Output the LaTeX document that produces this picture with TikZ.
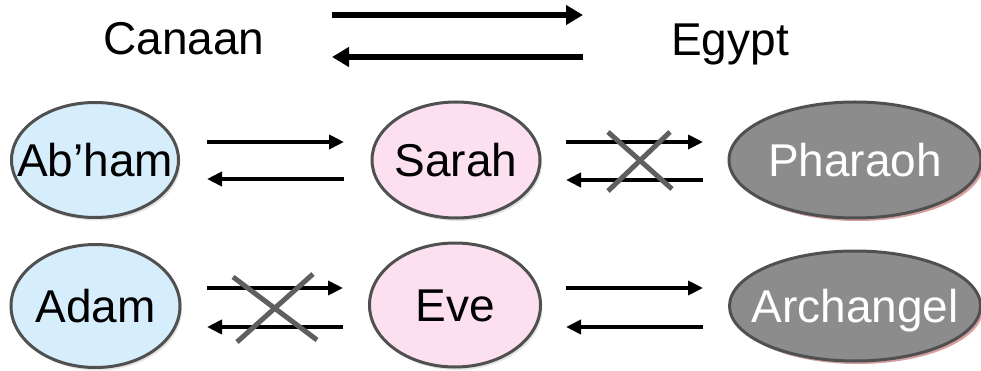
\documentclass[tikz,border=0pt]{standalone}
\usepackage{fontspec}
\setmainfont{Liberation Sans}
\usetikzlibrary{arrows.meta,shapes.geometric,shadows}
\definecolor{bluefill}{HTML}{D6EEFC}
\definecolor{pinkfill}{HTML}{FCE0EF}
\definecolor{grayfill}{HTML}{8C8C8C}
\definecolor{edgegray}{HTML}{505050}
\definecolor{crossgray}{HTML}{5F5F5F}
\newcommand{\ztext}[1]{\makebox[0pt]{#1}}
\tikzset{
  x=1pt, y=-1pt,
  bigtext/.style={font=\fontsize{46}{50}\selectfont, inner sep=0pt, text height=33pt, text depth=0pt},
  oval/.style={ellipse, draw=edgegray, line width=3pt, inner sep=0pt, bigtext,
    drop shadow={opacity=0.22, shadow xshift=2pt, shadow yshift=-3pt}},
  blueoval/.style={oval, fill=bluefill},
  pinkoval/.style={oval, fill=pinkfill},
  grayoval/.style={oval, fill=grayfill, text=white,
    drop shadow={opacity=0.3, fill=red!70!black, shadow xshift=3pt, shadow yshift=-3pt}},
  thinarrow/.style={line width=4pt, -{Triangle[length=15pt,width=14pt]}},
  thickarrow/.style={line width=6pt, -{Triangle[length=17pt,width=19pt]}},
  crossline/.style={line width=5pt, draw=crossgray},
}
\begin{document}
\begin{tikzpicture}
\useasboundingbox (0,0) rectangle (981,371);

% top labels
\node[bigtext] (canaan) at (184,38.5) {Canaan};
\node[bigtext] (egypt) at (730,39) {Egypt};
\coordinate (t1a) at (332,15); \coordinate (t1b) at (583,15);
\coordinate (t2a) at (583,57); \coordinate (t2b) at (332,57);
\draw[thickarrow] (t1a) -- (t1b);
\draw[thickarrow] (t2a) -- (t2b);

% ellipses
\node[blueoval, minimum width=167pt, minimum height=115pt] (abham) at (95,160) {\ztext{Ab’ham}};
\node[pinkoval, minimum width=168pt, minimum height=116pt] (sarah) at (456,160) {\ztext{Sarah}};
\node[grayoval, minimum width=252pt, minimum height=116pt] (pharaoh) at (855,160) {\ztext{Pharaoh}};
\node[blueoval, minimum width=169pt, minimum height=123pt] (adam) at (95.5,306) {\ztext{Adam}};
\node[pinkoval, minimum width=171pt, minimum height=124pt] (eve) at (455,305) {\ztext{Eve}};
\node[grayoval, minimum width=251pt, minimum height=110pt] (archangel) at (855,306) {\ztext{Archangel}};

% row 1 arrows
\coordinate (a1) at (207,142); \coordinate (a2) at (344,142);
\coordinate (a3) at (344,179); \coordinate (a4) at (207,179);
\draw[thinarrow] (a1) -- (a2);
\draw[thinarrow] (a3) -- (a4);
\coordinate (b1) at (566,142); \coordinate (b2) at (703,142);
\coordinate (b3) at (703,180); \coordinate (b4) at (566,180);
\draw[thinarrow] (b1) -- (b2);
\draw[thinarrow] (b3) -- (b4);
% cross row 1
\coordinate (x1) at (608,191); \coordinate (x2) at (670,132);
\coordinate (x3) at (608,132); \coordinate (x4) at (672,189);
\draw[crossline] (x1) -- (x2);
\draw[crossline] (x3) -- (x4);

% row 2 arrows
\coordinate (c1) at (207,288); \coordinate (c2) at (343,288);
\coordinate (c3) at (343,327); \coordinate (c4) at (207,327);
\draw[thinarrow] (c1) -- (c2);
\draw[thinarrow] (c3) -- (c4);
\coordinate (d1) at (566,288); \coordinate (d2) at (703,288);
\coordinate (d3) at (703,327); \coordinate (d4) at (566,327);
\draw[thinarrow] (d1) -- (d2);
\draw[thinarrow] (d3) -- (d4);
% cross row 2
\coordinate (y1) at (233,277); \coordinate (y2) at (317,340);
\coordinate (y3) at (313,274); \coordinate (y4) at (237,342);
\draw[crossline] (y1) -- (y2);
\draw[crossline] (y3) -- (y4);
\end{tikzpicture}
\end{document}
